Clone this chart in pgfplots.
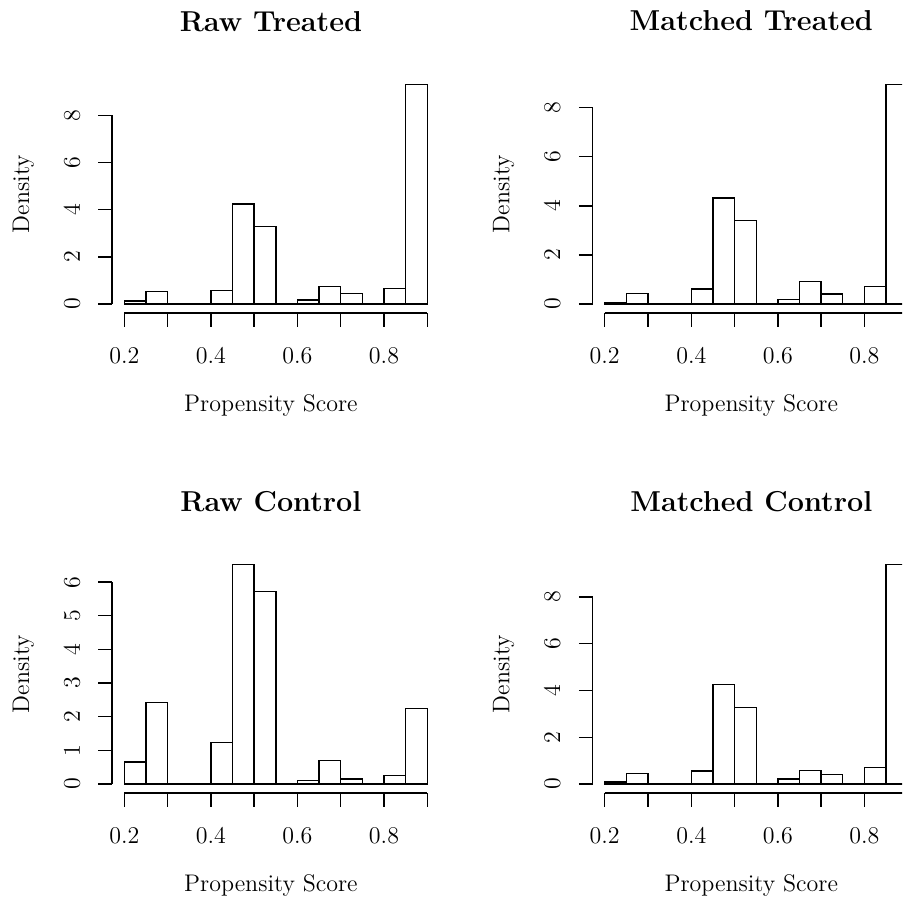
\documentclass[border=0pt,12pt]{standalone}
\usepackage{pgfplots}
\pgfplotsset{compat=1.18}
\pgfplotsset{
  rhist/.style={
    scale only axis, width=163.6pt, height=118.65pt,
    xmin=0.172, xmax=0.928,
    axis line style={draw=none},
    tick align=outside,
    xtick pos=left, ytick pos=left,
    major tick length=6.85pt,
    tick style={black, line width=0.7pt},
    xtick={0.2,0.3,0.4,0.5,0.6,0.7,0.8,0.9},
    xticklabels={0.2,,0.4,,0.6,,0.8,},
    xticklabel style={inner ysep=10.1pt},
    yticklabel style={rotate=90, anchor=south, inner ysep=9.15pt},
    xlabel style={at={(axis description cs:0.485,-0.4168)}, anchor=base},
    ylabel style={at={(axis description cs:-0.2717,0.5)}, anchor=center},
    xlabel={Propensity Score}, ylabel={Density},
    clip=false,
  },
  rbars/.style={ybar interval, fill=white, draw=black, line width=0.7pt},
}
\newcommand{\raxes}[2]{%
  \draw[line width=0.7pt] ({axis cs:0.2,0}|-{rel axis cs:0,0}) -- ({axis cs:0.9,0}|-{rel axis cs:0,0});
  \draw[line width=0.7pt] ({rel axis cs:0,0}|-{axis cs:0.2,0}) -- ({rel axis cs:0,0}|-{axis cs:0.2,#1});
  \node[font=\large\bfseries, anchor=base, inner sep=0pt] at (axis description cs:0.485,1.1875) {#2};
}
\begin{document}
\begin{tikzpicture}
\useasboundingbox (0,0) rectangle (451pt,-451.5pt);
\clip (0,0) rectangle (451pt,-451.5pt);
% Raw Treated
\begin{axis}[rhist, at={(56.1pt,-156.4pt)}, anchor=south west,
  ymin=-0.3724, ymax=9.6824, ytick={0,2,4,6,8}]
\addplot[rbars] coordinates {(0.20,0.13) (0.25,0.54) (0.30,0) (0.35,0) (0.40,0.58) (0.45,4.24) (0.50,3.28) (0.55,0) (0.60,0.17) (0.65,0.75) (0.70,0.44) (0.75,0) (0.80,0.66) (0.85,9.31) (0.90,0)};
\raxes{8}{Raw Treated}
\end{axis}
% Matched Treated
\begin{axis}[rhist, at={(296.3pt,-156.4pt)}, anchor=south west,
  ymin=-0.358, ymax=9.308, ytick={0,2,4,6,8}]
\addplot[rbars] coordinates {(0.20,0.05) (0.25,0.43) (0.30,0) (0.35,0) (0.40,0.61) (0.45,4.31) (0.50,3.41) (0.55,0) (0.60,0.19) (0.65,0.92) (0.70,0.41) (0.75,0) (0.80,0.72) (0.85,8.95) (0.90,0)};
\raxes{8}{Matched Treated}
\end{axis}
% Raw Control
\begin{axis}[rhist, at={(56.1pt,-396.4pt)}, anchor=south west,
  ymin=-0.2612, ymax=6.7912, ytick={0,1,2,3,4,5,6}]
\addplot[rbars] coordinates {(0.20,0.65) (0.25,2.43) (0.30,0) (0.35,0) (0.40,1.24) (0.45,6.53) (0.50,5.72) (0.55,0) (0.60,0.10) (0.65,0.70) (0.70,0.15) (0.75,0) (0.80,0.25) (0.85,2.24) (0.90,0)};
\raxes{6}{Raw Control}
\end{axis}
% Matched Control
\begin{axis}[rhist, at={(296.3pt,-396.4pt)}, anchor=south west,
  ymin=-0.3756, ymax=9.7656, ytick={0,2,4,6,8}]
\addplot[rbars] coordinates {(0.20,0.09) (0.25,0.44) (0.30,0) (0.35,0) (0.40,0.56) (0.45,4.26) (0.50,3.27) (0.55,0) (0.60,0.21) (0.65,0.59) (0.70,0.41) (0.75,0) (0.80,0.70) (0.85,9.39) (0.90,0)};
\raxes{8}{Matched Control}
\end{axis}
\end{tikzpicture}
\end{document}
